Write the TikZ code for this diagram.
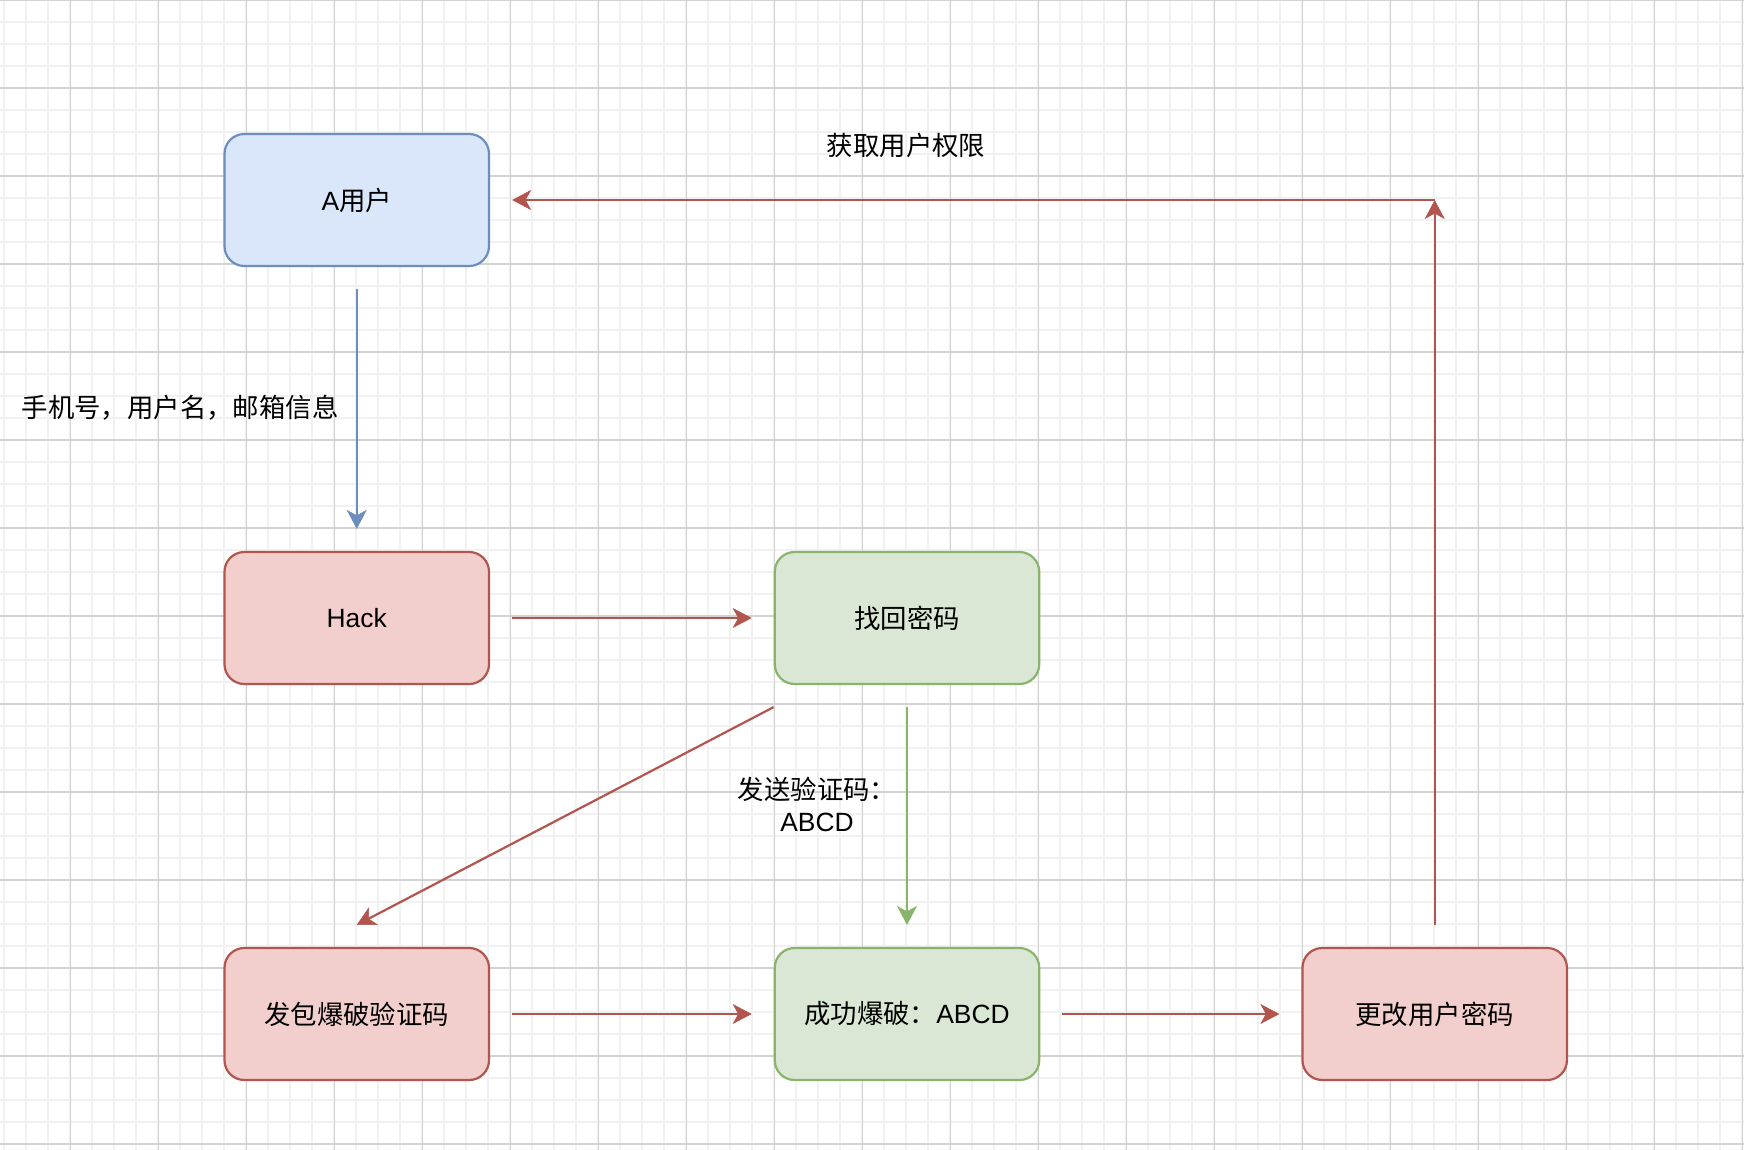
\documentclass[tikz,border=0pt]{standalone}
\usepackage{fontspec}
\setmainfont{Liberation Sans}
\newfontfamily\cjk{Noto Sans CJK SC}
\usetikzlibrary{arrows.meta}
\definecolor{gridminor}{HTML}{F1F1F1}
\definecolor{gridmajor}{HTML}{D2D2D2}
\definecolor{bluefill}{HTML}{DAE7FA}
\definecolor{bluedraw}{HTML}{6C8EBF}
\definecolor{redfill}{HTML}{F2CFCC}
\definecolor{reddraw}{HTML}{B3554F}
\definecolor{greenfill}{HTML}{D9E7D4}
\definecolor{greendraw}{HTML}{88B46C}
\tikzset{
  box/.style={rectangle, rounded corners=19.8pt, minimum width=264.5pt, minimum height=132pt,
    inner sep=0pt, line width=2.2pt, font=\fontsize{26.4}{32}\selectfont, text=black},
  bluebox/.style={box, draw=bluedraw, fill=bluefill},
  redbox/.style={box, draw=reddraw, fill=redfill},
  greenbox/.style={box, draw=greendraw, fill=greenfill},
  lbl/.style={inner sep=0pt, font=\fontsize{26.4}{32}\selectfont, text=black},
  conn/.style={line width=2.2pt, -{Stealth[length=19pt,width=20pt,inset=5.5pt,line width=0.5pt]}},
  redconn/.style={conn, draw=reddraw, fill=reddraw},
  blueconn/.style={conn, draw=bluedraw, fill=bluedraw},
  greenconn/.style={conn, draw=greendraw, fill=greendraw},
}
\begin{document}
\begin{tikzpicture}[x=1pt,y=-1pt]
\useasboundingbox (0,0) rectangle (1744,1150);
\fill[white] (0,0) rectangle (1744,1150);
% grid
\foreach \k in {0,...,79} \draw[gridminor, line width=2pt] (4.4+22*\k,0) -- (4.4+22*\k,1150);
\foreach \k in {0,...,52} \draw[gridminor, line width=2pt] (0,22*\k) -- (1744,22*\k);
\foreach \k in {0,...,19} \draw[gridmajor, line width=1.2pt] (70.4+88*\k,0) -- (70.4+88*\k,1150);
\foreach \k in {0,...,13} \draw[gridmajor, line width=1.2pt] (0,88*\k) -- (1744,88*\k);
% nodes
\node[bluebox] (userA) at (356.75,200) {A{\cjk 用户}};
\node[redbox] (hack) at (356.75,618) {Hack};
\node[greenbox] (find) at (907,618) {\cjk 找回密码};
\node[redbox] (brute) at (356.75,1014) {\cjk 发包爆破验证码};
\node[greenbox] (ok) at (907,1014) {{\cjk 成功爆破：}ABCD};
\node[redbox] (change) at (1434.7,1014) {\cjk 更改用户密码};
\coordinate (corner) at (1434.7,200);
% labels
\node[lbl] (l1) at (180,408) {\cjk 手机号，用户名，邮箱信息};
\node[lbl, align=center] (l2) at (817,804) {{\cjk 发送验证码：}\\ABCD};
\node[lbl] (l3) at (906,145) {\cjk 获取用户权限};
% connectors
\draw[blueconn, shorten <=22pt, shorten >=22pt] (userA) -- (hack);
\draw[redconn, shorten <=22pt, shorten >=22pt] (hack) -- (find);
\draw[redconn] ([yshift=-22pt]find.south west) -- ([yshift=22pt]brute.north);
\draw[greenconn, shorten <=22pt, shorten >=22pt] (find) -- (ok);
\draw[redconn, shorten <=22pt, shorten >=22pt] (brute) -- (ok);
\draw[redconn, shorten <=22pt, shorten >=22pt] (ok) -- (change);
\draw[redconn, shorten <=22pt] (change) -- (corner);
\draw[redconn, shorten >=22pt] (corner) -- (userA);
\end{tikzpicture}
\end{document}
